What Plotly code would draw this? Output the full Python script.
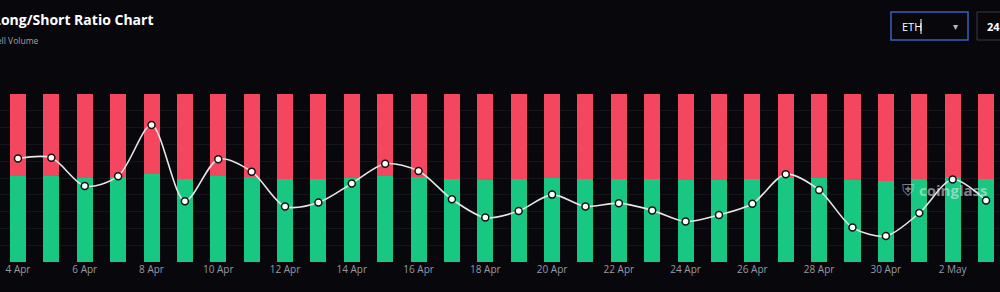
import plotly.graph_objects as go

dates = ["4 Apr", "5 Apr", "6 Apr", "7 Apr", "8 Apr", "9 Apr", "10 Apr", "11 Apr",
         "12 Apr", "13 Apr", "14 Apr", "15 Apr", "16 Apr", "17 Apr", "18 Apr", "19 Apr",
         "20 Apr", "21 Apr", "22 Apr", "23 Apr", "24 Apr", "25 Apr", "26 Apr", "27 Apr",
         "28 Apr", "29 Apr", "30 Apr", "1 May", "2 May", "3 May"]

long_pct = [51.19, 51.21, 50.17, 50.55, 52.38, 49.60, 51.17, 50.72,
            49.39, 49.55, 50.27, 51.01, 50.74, 49.67, 48.95, 49.21,
            49.85, 49.39, 49.52, 49.24, 48.79, 49.06, 49.49, 50.62,
            50.02, 48.56, 48.21, 49.14, 50.42, 49.62]

short_pct = [48.81, 48.79, 49.83, 49.45, 47.62, 50.40, 48.83, 49.28,
             50.61, 50.45, 49.73, 48.99, 49.26, 50.33, 51.05, 50.79,
             50.15, 50.61, 50.48, 50.76, 51.21, 50.94, 50.51, 49.38,
             49.98, 51.44, 51.79, 50.86, 49.58, 50.38]

ratio = [1.049, 1.050, 1.007, 1.022, 1.100, 0.984, 1.048, 1.029,
         0.976, 0.982, 1.011, 1.041, 1.030, 0.987, 0.959, 0.969,
         0.994, 0.976, 0.981, 0.970, 0.953, 0.963, 0.980, 1.025,
         1.001, 0.944, 0.931, 0.966, 1.017, 0.985]

tick_labels = ["4 Apr", "6 Apr", "8 Apr", "10 Apr", "12 Apr", "14 Apr", "16 Apr",
               "18 Apr", "20 Apr", "22 Apr", "24 Apr", "26 Apr", "28 Apr", "30 Apr", "2 May"]

GREEN = "#17c782"
RED = "#f4475f"
BG = "#07070c"

fig = go.Figure()
fig.add_trace(go.Bar(x=dates, y=long_pct, marker=dict(color=GREEN, line=dict(width=0)),
                     name="Long", showlegend=False, hoverinfo="skip"))
fig.add_trace(go.Bar(x=dates, y=short_pct, marker=dict(color=RED, line=dict(width=0)),
                     name="Short", showlegend=False, hoverinfo="skip"))
fig.add_trace(go.Scatter(x=dates, y=ratio, yaxis="y2", mode="lines+markers",
                         line=dict(color="#e6e6e6", width=1.6, shape="spline", smoothing=0.85),
                         marker=dict(size=7, color="white", line=dict(color="#111111", width=1.5)),
                         showlegend=False, hoverinfo="skip"))

W, H = 1000, 292
T, B = 94, 30
PH = H - T - B

def py(pix):
    return (H - B - pix) / PH

def px(pix):
    return pix / W

fig.update_layout(
    width=W, height=H,
    margin=dict(l=0, r=0, t=T, b=B),
    paper_bgcolor=BG, plot_bgcolor=BG,
    barmode="stack", bargap=0.52,
    xaxis=dict(type="category", range=[-0.539, 29.419], tickmode="array",
               tickvals=tick_labels, ticktext=tick_labels, showgrid=False,
               tickfont=dict(color="#9a9aa6", size=10, family="Open Sans"),
               ticks="", showline=False, zeroline=False),
    yaxis=dict(range=[0, 100], showticklabels=False, showgrid=True,
               gridcolor="#15151c", gridwidth=1, dtick=10, zeroline=False),
    yaxis2=dict(overlaying="y", range=[0.8914, 1.1472], showticklabels=False,
                showgrid=False, zeroline=False, side="right"),
    font=dict(family="Open Sans", color="#ffffff"),
    hovermode=False,
)

annotations = [
    dict(text="<b>Long/Short Ratio Chart</b>", xref="paper", yref="paper",
         x=px(156), y=py(19), xanchor="right", yanchor="middle", showarrow=False,
         font=dict(size=14, color="#ffffff", family="Open Sans")),
    dict(text="Buy Sell Volume", xref="paper", yref="paper",
         x=px(41), y=py(40), xanchor="right", yanchor="middle", showarrow=False,
         font=dict(size=8.5, color="#a0a0a8", family="Open Sans")),
    dict(text="ETH", xref="paper", yref="paper", x=px(900), y=py(26),
         xanchor="left", yanchor="middle", showarrow=False,
         font=dict(size=11, color="#ffffff", family="Open Sans")),
    dict(text="▾", xref="paper", yref="paper", x=px(955), y=py(26),
         xanchor="center", yanchor="middle", showarrow=False,
         font=dict(size=10, color="#bbbbbb")),
    dict(text="<b>24 h</b>", xref="paper", yref="paper", x=px(985), y=py(26),
         xanchor="left", yanchor="middle", showarrow=False,
         font=dict(size=11, color="#ffffff", family="Open Sans")),
    dict(text="<b>coinglass</b>", xref="paper", yref="paper", x=px(917), y=py(190),
         xanchor="left", yanchor="middle", showarrow=False,
         font=dict(size=15, color="rgba(235,235,240,0.55)", family="Open Sans")),
    dict(text="⛨", xref="paper", yref="paper", x=px(908), y=py(190),
         xanchor="center", yanchor="middle", showarrow=False,
         font=dict(size=16, color="rgba(235,235,240,0.5)")),
]
fig.update_layout(annotations=annotations)

fig.update_layout(shapes=[
    dict(type="rect", xref="paper", yref="paper", x0=px(891), x1=px(968),
         y0=py(40), y1=py(12), line=dict(color="#3d5fc0", width=1.5),
         fillcolor="rgba(0,0,0,0)", layer="above"),
    dict(type="rect", xref="paper", yref="paper", x0=px(977), x1=px(1015),
         y0=py(40), y1=py(12), line=dict(color="#3a3a44", width=1),
         fillcolor="rgba(0,0,0,0)", layer="above"),
    dict(type="line", xref="paper", yref="paper", x0=px(921), x1=px(921),
         y0=py(34), y1=py(19), line=dict(color="#ffffff", width=1)),
])

fig.write_html(
    "out.html",
    config={"displayModeBar": False, "staticPlot": True},
    post_script="document.body.style.margin='0';document.body.style.padding='0';"
                "document.body.style.overflow='hidden';document.body.style.background='" + BG + "';",
)
